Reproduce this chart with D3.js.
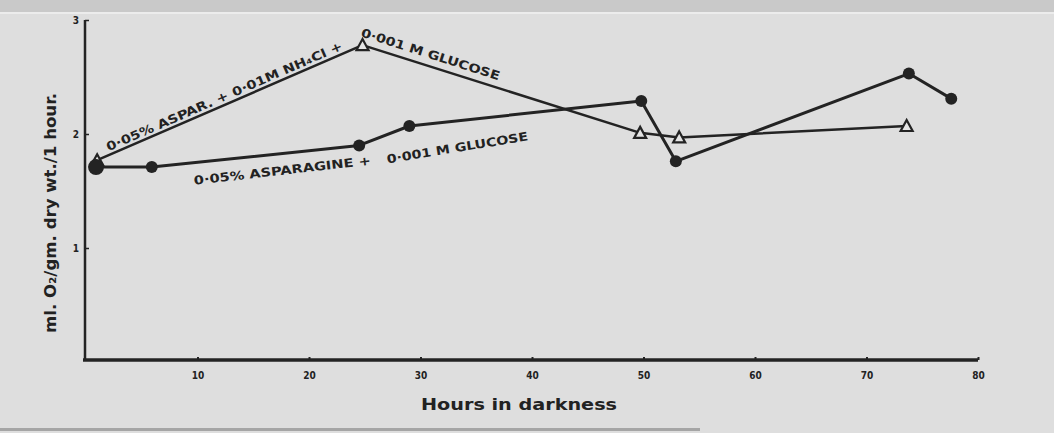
<!DOCTYPE html>
<html>
<head>
<meta charset="utf-8">
<script src="https://cdn.jsdelivr.net/npm/d3@7/dist/d3.min.js"></script>
<style>
  html, body { margin: 0; padding: 0; background: #dedede; }
  svg { display: block; }
  text { font-family: "DejaVu Sans Condensed", "DejaVu Sans", sans-serif; fill: #222; }
</style>
</head>
<body>
<svg id="chart" width="1054" height="433"></svg>
<script>
// ---- data (hours in darkness, ml O2 / gm dry wt / 1 hour) ----
const hoursNH4 = [1.0, 24.8, 49.7, 53.2, 73.6];
const valuesNH4 = [1.77, 2.78, 2.01, 1.97, 2.07];

const hoursAsp = [0.9, 5.9, 24.5, 29.0, 49.8, 52.9, 73.8, 77.6];
const valuesAsp = [1.71, 1.71, 1.90, 2.07, 2.29, 1.76, 2.53, 2.31];

const xTicks = [10, 20, 30, 40, 50, 60, 70, 80];
const yTicks = [1, 2, 3];

const labelTexts = ["0·05% ASPAR. + 0·01M NH₄Cl +", "0·001 M GLUCOSE", "0·05% ASPARAGINE +", "0·001 M GLUCOSE"];
const labelHours = [12.4, 30.9, 17.6, 33.3];
const labelValues = [2.33, 2.70, 1.68, 1.88];
const labelAngles = [-23.5, 17.7, -6.5, -9.3];
const labelLengths = [256, 145, 178, 143];

// ---- drawing ----
const svg = d3.select("#chart");
const x = d3.scaleLinear().domain([0, 80]).range([86, 978]);
const y = d3.scaleLinear().domain([0, 3]).range([362, 20]);
const ink = "#232323";

// paper background
svg.append("rect").attr("width", 1054).attr("height", 433).attr("fill", "#dedede");
svg.append("rect").attr("width", 1054).attr("height", 12).attr("fill", "#c9c9c9");
svg.append("rect").attr("y", 12).attr("width", 1054).attr("height", 2).attr("fill", "#ececec");
svg.append("rect").attr("y", 428).attr("width", 700).attr("height", 3).attr("fill", "#a5a5a5");

// axes
const xAxis = svg.append("g").attr("transform", "translate(0,360)")
  .call(d3.axisBottom(x).tickValues(xTicks).tickSize(0).tickPadding(12).tickSizeOuter(0));
xAxis.select(".domain").attr("stroke", ink).attr("stroke-width", 3.5).attr("d", `M${x(0)-3},0H${x(80)}`);
xAxis.selectAll(".tick line").remove();
xAxis.selectAll(".tick").append("line").attr("y1", -3).attr("y2", 0).attr("stroke", ink).attr("stroke-width", 2);
xAxis.selectAll(".tick text").attr("font-size", 10).attr("font-weight", "bold").attr("fill", ink);

const yAxis = svg.append("g").attr("transform", "translate(85,0)")
  .call(d3.axisLeft(y).tickValues(yTicks).tickSize(0).tickPadding(6).tickFormat(d3.format("d")).tickSizeOuter(0));
yAxis.select(".domain").attr("stroke", ink).attr("stroke-width", 2.5).attr("d", `M0,${y(3)}V${y(0)-2}`);
yAxis.selectAll(".tick line").remove();
yAxis.selectAll(".tick").append("line").attr("x1", 0).attr("x2", 4).attr("stroke", ink).attr("stroke-width", 1.5);
yAxis.selectAll(".tick text").attr("font-size", 10).attr("font-weight", "bold").attr("fill", ink);

// axis titles
svg.append("text").attr("x", 519).attr("y", 410).attr("text-anchor", "middle")
  .attr("font-size", 15).attr("font-weight", "bold")
  .attr("textLength", 196).attr("lengthAdjust", "spacingAndGlyphs")
  .text("Hours in darkness");
svg.append("text").attr("transform", "translate(56,213) rotate(-90)").attr("text-anchor", "middle")
  .attr("font-size", 15).attr("font-weight", "bold")
  .attr("textLength", 240).attr("lengthAdjust", "spacingAndGlyphs")
  .text("ml. O₂/gm. dry wt./1 hour.");

// series lines
const line = d3.line().x(d => x(d[0])).y(d => y(d[1]));
const nh4 = hoursNH4.map((h, i) => [h, valuesNH4[i]]);
const asp = hoursAsp.map((h, i) => [h, valuesAsp[i]]);

svg.append("path").datum(nh4).attr("d", line).attr("fill", "none")
  .attr("stroke", ink).attr("stroke-width", 2.5).attr("stroke-linejoin", "round");
svg.append("path").datum(asp).attr("d", line).attr("fill", "none")
  .attr("stroke", ink).attr("stroke-width", 3).attr("stroke-linejoin", "round");

// triangle markers (open)
svg.selectAll(".tri").data(nh4).join("path").attr("class", "tri")
  .attr("transform", d => `translate(${x(d[0])},${y(d[1])})`)
  .attr("d", "M0,-6L6,5L-6,5Z")
  .attr("fill", "#e4e4e4").attr("stroke", ink).attr("stroke-width", 2.2);

// circle markers (filled)
svg.selectAll(".dot").data(asp).join("circle").attr("class", "dot")
  .attr("cx", d => x(d[0])).attr("cy", d => y(d[1]))
  .attr("r", (d, i) => i === 0 ? 8 : 6).attr("fill", ink);

// line labels
labelTexts.forEach((t, i) => {
  svg.append("text")
    .attr("transform", `translate(${x(labelHours[i])},${y(labelValues[i])}) rotate(${labelAngles[i]})`)
    .attr("text-anchor", "middle").attr("dy", "0.35em")
    .attr("font-size", 12).attr("font-weight", "bold")
    .attr("textLength", labelLengths[i]).attr("lengthAdjust", "spacingAndGlyphs")
    .text(t);
});
</script>
</body>
</html>
